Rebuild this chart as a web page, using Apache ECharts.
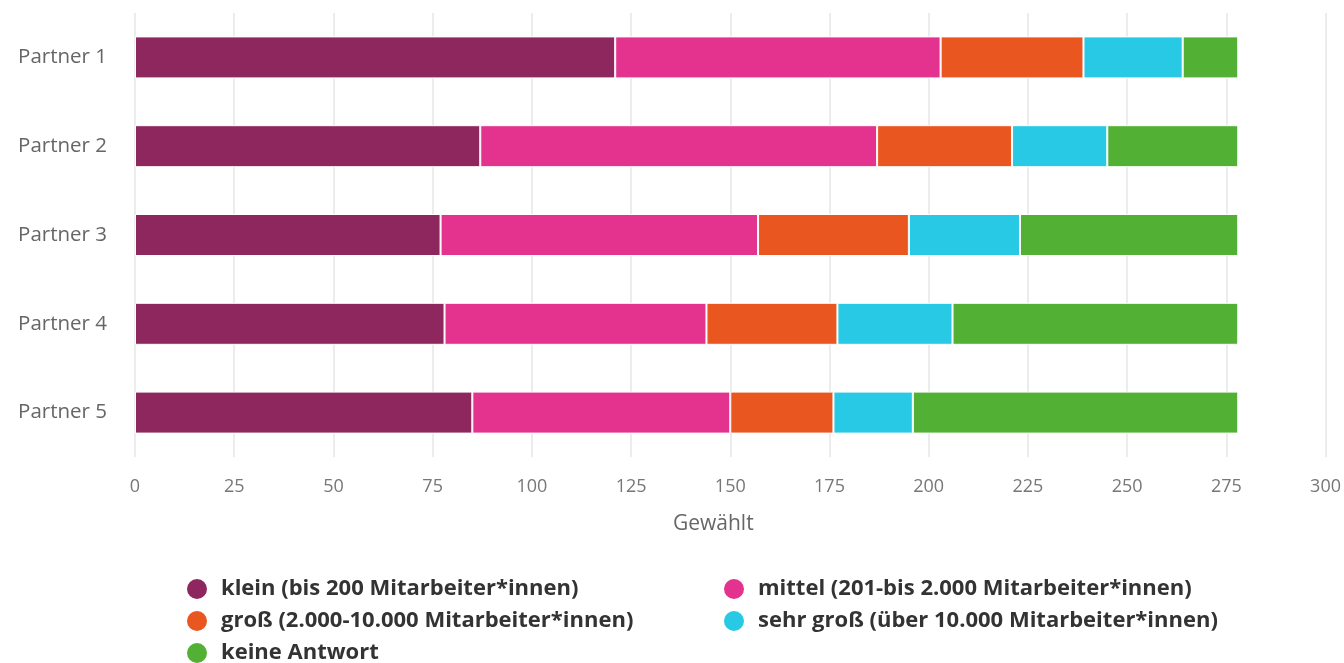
<!DOCTYPE html>
<html>
<head>
<meta charset="utf-8">
<style>
  html, body { margin: 0; padding: 0; background: #fff; }
  #chart { width: 1344px; height: 663px; }
</style>
<script src="https://cdn.jsdelivr.net/npm/echarts@6/dist/echarts.min.js"></script>
</head>
<body>
<div id="chart"></div>
<script>
// Responses per partner, split by company size
const partners = ['Partner 1', 'Partner 2', 'Partner 3', 'Partner 4', 'Partner 5'];
const klein     = [121, 87, 77, 78, 85];
const mittel    = [82, 100, 80, 66, 65];
const gross     = [36, 34, 38, 33, 26];
const sehrGross = [25, 24, 28, 29, 20];
const keine     = [14, 33, 55, 72, 82];
const xTicks = { min: 0, max: 300, interval: 25 };

const names = [
  'klein (bis 200 Mitarbeiter*innen)',
  'mittel (201-bis 2.000 Mitarbeiter*innen)',
  'groß (2.000-10.000 Mitarbeiter*innen)',
  'sehr groß (über 10.000 Mitarbeiter*innen)',
  'keine Antwort'
];
const colors = ['#8e275e', '#e3338f', '#ea561f', '#27c9e4', '#52b134'];
const values = [klein, mittel, gross, sehrGross, keine];

const FONT = '"Open Sans", "Noto Sans", sans-serif';

const chart = echarts.init(document.getElementById('chart'), null, { renderer: 'canvas' });

const legendText = {
  fontFamily: FONT, fontSize: 22, fontWeight: 'bold', color: '#333',
  lineHeight: 22, padding: [0, 0, 0, 8]
};
const legendBase = {
  orient: 'vertical', top: 572, height: 120,
  icon: 'circle', itemWidth: 22, itemHeight: 22, itemGap: 8,
  textStyle: legendText, selectedMode: false
};

chart.setOption({
  animation: false,
  color: colors,
  grid: { left: 135, right: 16, top: 13, bottom: 206, containLabel: false },
  legend: [
    Object.assign({ data: [names[0], names[2], names[4]], left: 180 }, legendBase),
    Object.assign({ data: [names[1], names[3]], left: 717 }, legendBase)
  ],
  xAxis: {
    type: 'value',
    min: xTicks.min, max: xTicks.max, interval: xTicks.interval,
    name: 'Gewählt',
    nameLocation: 'middle',
    nameGap: 57,
    nameTextStyle: { fontFamily: FONT, fontSize: 21, color: '#666', padding: [0, 34, 0, 0] },
    axisLine: { show: false },
    axisTick: { show: false },
    axisLabel: { fontFamily: FONT, fontSize: 18, color: '#777', margin: 21 },
    splitLine: { show: true, lineStyle: { color: '#e6e6e6', width: 1.5 } }
  },
  yAxis: {
    type: 'category',
    data: partners,
    inverse: true,
    axisLine: { show: false },
    axisTick: { show: false },
    axisLabel: { fontFamily: FONT, fontSize: 20.5, color: '#666', margin: 28 }
  },
  series: names.map((n, i) => ({
    name: n,
    type: 'bar',
    stack: 'total',
    barWidth: 42,
    data: values[i],
    itemStyle: { color: colors[i], borderColor: '#fff', borderWidth: 1 }
  }))
});
</script>
</body>
</html>
